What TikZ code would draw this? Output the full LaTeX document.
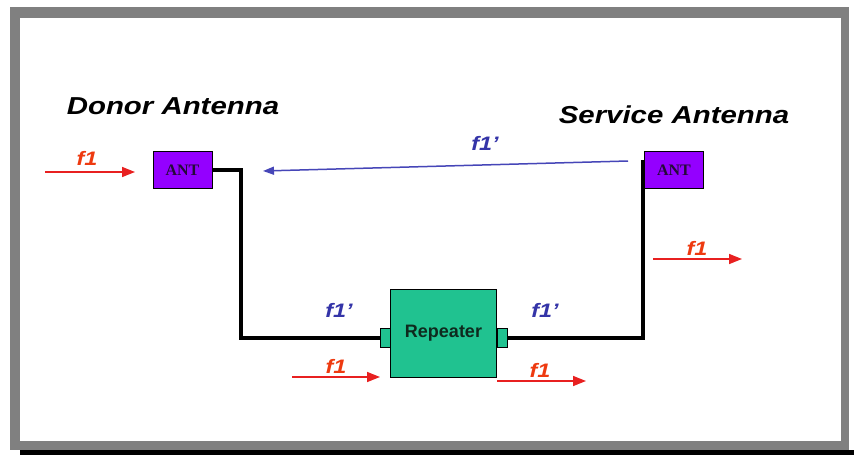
\documentclass[tikz,border=0pt]{standalone}
\usepackage{fontspec}
\setmainfont{Liberation Sans}
\newfontfamily\wide[FakeStretch=1.2]{Liberation Sans}
\newfontfamily\antfont{Liberation Serif}
\usetikzlibrary{arrows.meta}
\definecolor{framegray}{HTML}{808080}
\definecolor{antviolet}{HTML}{9400FF}
\definecolor{antText}{HTML}{240A38}
\definecolor{repgreen}{HTML}{20C290}
\definecolor{repText}{HTML}{0E2A1E}
\definecolor{redline}{HTML}{E82020}
\definecolor{redtext}{HTML}{EE3A10}
\definecolor{bluetext}{HTML}{3434A8}
\definecolor{blueline}{HTML}{4646B8}
\tikzset{
  ant/.style={draw=black, line width=0.8pt, fill=antviolet, minimum width=59pt, minimum height=37pt, inner sep=0pt, font=\antfont\fontsize{16}{16}\selectfont\bfseries, text=antText},
  rep/.style={draw=black, line width=0.8pt, fill=repgreen, minimum width=106pt, minimum height=88pt, inner sep=0pt, font=\fontsize{18}{18}\selectfont\bfseries, text=repText},
  conn/.style={draw=black, line width=0.8pt, fill=repgreen, minimum width=10pt, minimum height=19pt, inner sep=0pt},
  wire/.style={draw=black, line width=4pt},
  redarrow/.style={draw=redline, line width=1.5pt, -{Triangle[length=13pt,width=10pt]}},
  bluearrow/.style={draw=blueline, line width=1.5pt, -{Triangle[length=11pt,width=8pt]}},
  title/.style={font=\wide\fontsize{24.5}{24.5}\selectfont\bfseries\itshape, text=black},
  redlab/.style={font=\wide\fontsize{19.5}{19.5}\selectfont\bfseries\itshape, text=redtext},
  bluelab/.style={font=\wide\fontsize{19.5}{19.5}\selectfont\bfseries\itshape, text=bluetext},
}
\begin{document}
\begin{tikzpicture}[x=1pt,y=-1pt]
\useasboundingbox (0,0) rectangle (854,455);
\fill[white] (0,0) rectangle (854,455);
% frame
\fill[framegray] (10,7) rectangle (849,450);
\fill[white] (20,18) rectangle (841,441);
\fill[black] (20,450) rectangle (854,455);
% titles
\node[title] (dtitle) at (173,106) {Donor Antenna};
\node[title] (stitle) at (674,115) {Service Antenna};
% main nodes
\node[ant] (dant) at (182.5,170) {ANT};
\node[ant] (sant) at (674,170) {ANT};
\node[rep] (rep) at (443.5,333) {Repeater};
\node[conn] (lc) at (385,337.5) {};
\node[conn] (rc) at (502,337.5) {};
% wires
\draw[wire] (dant.east) -- ++(29,0) |- (lc.west);
\draw[wire] ([xshift=-1.5pt,yshift=-9pt]sant.north west) |- (rc.east);
% blue signal
\coordinate (bs) at (628,161);
\coordinate (be) at (263,171);
\draw[bluearrow] (bs) -- (be);
\node[bluelab] (bl1) at (485,143) {f1’};
\node[bluelab] (bl2) at (339,310) {f1’};
\node[bluelab] (bl3) at (545,310) {f1’};
% red signals
\coordinate (r1s) at (45,172);  \coordinate (r1e) at (135,172);
\coordinate (r2s) at (653,259); \coordinate (r2e) at (742,259);
\coordinate (r3s) at (292,377); \coordinate (r3e) at (380,377);
\coordinate (r4s) at (497,381); \coordinate (r4e) at (586,381);
\draw[redarrow] (r1s) -- (r1e);
\draw[redarrow] (r2s) -- (r2e);
\draw[redarrow] (r3s) -- (r3e);
\draw[redarrow] (r4s) -- (r4e);
\node[redlab] (rl1) at (87,158) {f1};
\node[redlab] (rl2) at (697,248) {f1};
\node[redlab] (rl3) at (336,366) {f1};
\node[redlab] (rl4) at (540,370) {f1};
\end{tikzpicture}
\end{document}
